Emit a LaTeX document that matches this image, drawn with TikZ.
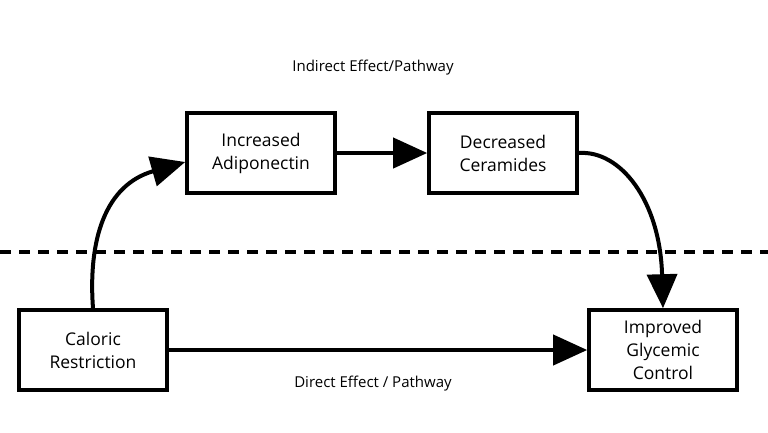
\documentclass[tikz,border=0pt]{standalone}
\usepackage{fontspec}
\setmainfont{Open Sans}
\usetikzlibrary{arrows.meta}
\begin{document}
\begin{tikzpicture}[x=1pt,y=-1pt,
  box/.style={draw,line width=3.6pt,minimum width=148pt,minimum height=80pt,align=center,font=\fontsize{17.5}{23}\selectfont,inner sep=2pt},
  arr/.style={line width=4pt,-{Triangle[length=34pt,width=30pt]}},
  lbl/.style={font=\fontsize{15}{18}\selectfont}]
\useasboundingbox (0,0) rectangle (768,432);
\node[box] (cr) at (93,350) {Caloric\\Restriction};
\node[box] (ad) at (261,153) {Increased\\Adiponectin};
\node[box] (ce) at (503,153) {Decreased\\Ceramides};
\node[box] (gc) at (663,350) {Improved\\Glycemic\\Control};
\coordinate (dl) at (0,252);
\coordinate (dr) at (768,252);
\draw[line width=3.6pt,dash pattern=on 11pt off 8pt] (dl) -- (dr);
\node[lbl] (ind) at (373,68) {Indirect Effect/Pathway};
\node[lbl] (dir) at (373,384) {Direct Effect / Pathway};
\draw[arr] (cr.north) .. controls (88,240) and (105,185) .. (ad.west |- 0,162);
\draw[arr] (ad.east) -- (ce.west);
\draw[arr] (ce.east) .. controls (620,150) and (660,200) .. (gc.north);
\draw[arr] (cr.east) -- (gc.west);
\end{tikzpicture}
\end{document}
